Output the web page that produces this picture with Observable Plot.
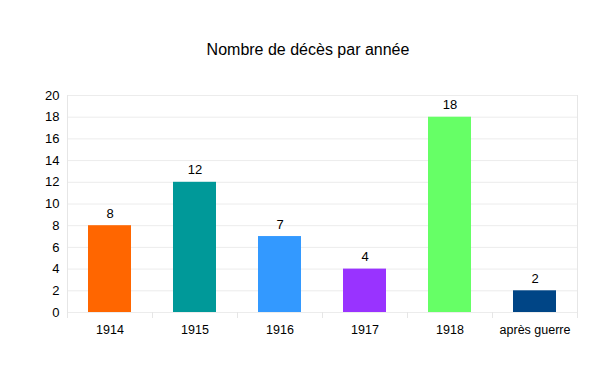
<!DOCTYPE html>
<html>
<head>
<meta charset="utf-8">
<script src="https://cdn.jsdelivr.net/npm/d3@7"></script>
<script src="https://cdn.jsdelivr.net/npm/@observablehq/plot@0.6"></script>
<style>
  html, body { margin: 0; padding: 0; background: #fff; }
  body { width: 598px; height: 373px; overflow: hidden; font-family: "Liberation Sans", Arial, sans-serif; }
  #title { height: 60px; box-sizing: border-box; padding-top: 40px; text-align: center; font-size: 16px; line-height: 20px; color: #000; padding-left: 18px; }
</style>
</head>
<body>
<div id="title">Nombre de décès par année</div>
<div id="chart"></div>
<script>
const categories = ["1914", "1915", "1916", "1917", "1918", "après guerre"];
const deaths = [8, 12, 7, 4, 18, 2];
const colors = ["#ff6600", "#009999", "#3399ff", "#9933ff", "#66ff66", "#004586"];
const yTicks = [0, 2, 4, 6, 8, 10, 12, 14, 16, 18, 20];

const data = categories.map((c, i) => ({category: c, value: deaths[i], color: colors[i]}));

function frameLines(index, scales, values, dims) {
  const g = d3.create("svg:g").attr("stroke", "#e6e6e6").attr("stroke-width", 1);
  const left = dims.marginLeft, right = dims.width - dims.marginRight;
  const top = dims.marginTop, bottom = dims.height - dims.marginBottom;
  const step = (right - left) / categories.length;
  for (let i = 0; i <= categories.length; i++) {
    const x = Math.round(left + i * step) + 0.5;
    const y1 = (i === 0 || i === categories.length) ? top : bottom;
    g.append("line").attr("x1", x).attr("x2", x).attr("y1", y1).attr("y2", bottom + 6);
  }
  return g.node();
}

const chart = Plot.plot({
  width: 598,
  height: 313,
  marginLeft: 67,
  marginRight: 21,
  marginTop: 35,
  marginBottom: 61,
  style: {fontFamily: "'Liberation Sans', Arial, sans-serif", color: "#000", background: "#fff"},
  x: {domain: categories, paddingInner: 0.5, paddingOuter: 0.25, label: null},
  y: {domain: [0, 20], label: null},
  marks: [
    Plot.ruleY(yTicks, {stroke: "#ececec", strokeWidth: 1}),
    frameLines,
    Plot.barY(data, {x: "category", y: "value", fill: "color"}),
    Plot.text(data, {x: "category", y: "value", text: d => String(d.value), dy: -12, fontSize: 13, fill: "#000"}),
    Plot.axisY({ticks: yTicks, tickSize: 0, tickPadding: 8, fontSize: 13, label: null}),
    Plot.axisX({tickSize: 0, tickPadding: 13, fontSize: 12.5, label: null})
  ]
});
document.getElementById("chart").appendChild(chart);
</script>
</body>
</html>
